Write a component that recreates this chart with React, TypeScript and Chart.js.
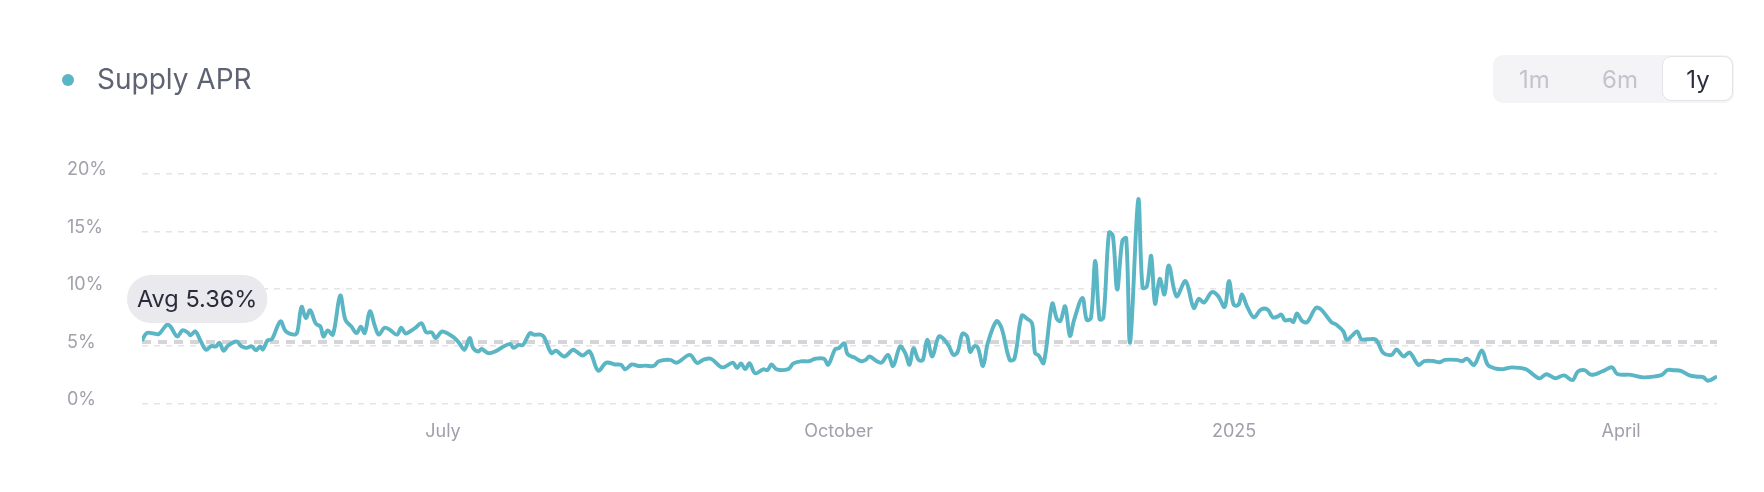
import React, { useEffect, useRef } from "react";
import { Chart, registerables } from "chart.js";

Chart.register(...registerables);

// ---- data (day 0 = 22 Apr 2024) ----
const days = [
  0, 1.1, 2.7, 3.9, 5.8, 6.6, 8.2, 9.4, 10.6, 11.3, 12.4, 13.7, 14.9, 16.1, 17.2, 18.0, 19.0, 20.0,
  22.0, 23.1, 24.3, 25.5, 26.5, 27.5, 28.1, 29.2, 30.2, 32.2, 33.4, 35.3, 36.1, 37.1, 38.1, 39.1,
  40.4, 41.5, 42.2, 43.2, 44.4, 46.1, 47.3, 48.7, 49.9, 50.9, 51.8, 53.0, 54.2, 55.1, 56.4, 57.7,
  59.3, 60.3, 61.3, 62.4, 63.6, 65.0, 66.1, 67.4, 68.3, 69.7, 71.1, 72.7, 73.8, 75.0, 76.2, 77.0,
  78.2, 79.0, 80.5, 82.1, 83.7, 85.6, 86.4, 87.6, 88.6, 90.2, 91.1, 92.7, 93.5, 95.2, 96.3, 98.2,
  100.2, 101.0, 102.5, 104.1, 106.1, 108.0, 110.0, 111.4, 112.4, 113.9, 115.5, 117.1, 119.0, 120.2,
  122.8, 124.4, 127.4, 129.1, 130.5, 132.3, 135.0, 137.4, 138.4, 139.3, 140.3, 141.3, 142.6, 144.5,
  145.5, 146.4, 147.6, 150.3, 151.5, 153.5, 155.1, 156.6, 158.6, 159.6, 161.2, 162.1, 163.3, 164.1,
  165.7, 167.3, 168.3, 169.2, 170.8, 172.0, 173.5, 174.7, 176.3, 177.5, 178.5, 179.4, 180.6, 181.6,
  182.6, 183.8, 185.3, 186.5, 187.7, 188.7, 189.7, 190.8, 191.9, 192.6, 193.6, 194.4, 195.6, 196.7,
  198.7, 199.9, 201.8, 202.9, 204.6, 205.8, 207.0, 207.7, 208.5, 209.7, 211.7, 212.8, 213.6, 214.7,
  215.8, 216.8, 218.7, 219.7, 220.7, 221.7, 222.7, 223.6, 224.9, 225.8, 226.8, 228.0, 228.9, 229.8,
  231.7, 232.7, 233.7, 234.7, 235.6, 236.7, 237.8, 238.8, 240.6, 242.7, 244.6, 245.8, 247.0, 248.8,
  250.2, 251.8, 252.8, 253.9, 255.0, 255.8, 257.0, 258.6, 260.2, 261.8, 263.0, 264.2, 265.0, 265.8,
  267.0, 267.8, 268.6, 269.8, 271.0, 273.0, 274.2, 276.6, 277.8, 279.4, 280.2, 281.4, 282.6, 283.6,
  285.0, 287.0, 288.6, 290.6, 291.8, 293.4, 294.8, 296.9, 298.2, 300.2, 301.8, 303.0, 305.8, 307.0,
  308.2, 309.8, 311.6, 313.0, 314.6, 316.6, 318.6, 321.8, 323.4, 325.0, 326.6, 328.7, 330.7, 332.7,
  333.9, 335.5, 337.1, 339.9, 341.9, 343.1, 346.3, 349.1, 351.9, 353.5, 354.8, 356.3, 357.9, 359.9,
  361.9, 363.1, 364.2, 366.3,
];

const supplyApr = [
  5.47, 6.14, 6.1, 6.05, 6.87, 6.72, 5.84, 6.37, 6.2, 5.95, 6.29, 5.4, 4.68, 5.0, 4.98, 5.3, 4.6, 5.05,
  5.4, 5.0, 4.85, 4.98, 4.65, 4.98, 4.7, 5.5, 5.6, 7.16, 6.3, 6.0, 6.2, 8.42, 7.45, 8.12,
  6.97, 6.7, 5.84, 6.37, 6.0, 9.41, 7.3, 6.7, 6.14, 6.7, 6.14, 8.04, 6.7, 6.0, 6.6, 6.4,
  6.0, 6.6, 6.1, 6.3, 6.6, 7.0, 6.2, 6.2, 5.7, 6.26, 6.1, 5.7, 5.26, 4.68, 5.7, 4.85,
  4.53, 4.75, 4.39, 4.53, 4.88, 5.2, 4.85, 5.1, 5.1, 6.14, 6.0, 6.0, 5.8, 4.4, 4.6, 4.09,
  4.68, 4.53, 4.18, 4.53, 2.86, 3.56, 3.4, 3.37, 2.98, 3.4, 3.27, 3.3, 3.27, 3.68,
  3.8, 3.56, 4.24, 3.53, 3.8, 3.9, 3.15, 3.56, 3.1, 3.5, 3.0, 3.5, 2.63, 2.98,
  2.92, 3.4, 2.98, 3.0, 3.5, 3.68, 3.68, 3.9, 3.9, 3.38, 4.73, 4.82, 5.26, 4.3,
  4.0, 3.68, 3.8, 4.1, 3.7, 3.56, 4.24, 3.27, 4.97, 4.4, 3.38, 4.82, 3.8, 3.8,
  5.55, 4.1, 5.84, 5.6, 4.97, 4.24, 4.5, 6.08, 5.84, 4.5, 5.0, 4.85, 3.27, 5.26,
  7.16, 6.6, 3.8, 3.9, 7.66, 7.4, 7.0, 4.4, 4.2, 3.53, 8.7, 7.34, 7.2, 8.47,
  5.9, 7.3, 9.2, 7.3, 7.45, 12.42, 7.34, 7.5, 14.9, 14.6, 9.94, 14.2, 14.4, 5.32,
  17.77, 10.1, 10.2, 12.86, 8.7, 10.87, 9.5, 12.04, 9.35, 10.67, 8.33, 9.12, 8.8, 9.7,
  9.4, 8.42, 10.67, 8.6, 8.6, 9.5, 8.47, 7.5, 8.18, 8.18, 7.5, 7.6, 7.75, 7.25,
  7.3, 7.1, 7.85, 7.2, 7.1, 8.33, 8.2, 7.1, 6.87, 6.28, 5.55, 5.9, 6.28, 5.6,
  5.6, 5.55, 4.44, 4.24, 4.7, 4.1, 4.44, 3.36, 3.7, 3.7, 3.6, 3.8, 3.8, 3.7,
  3.9, 3.36, 4.62, 3.36, 3.07, 3.0, 3.15, 3.0, 2.57, 2.19, 2.55, 2.2, 2.45, 2.04,
  2.77, 2.9, 2.5, 2.85, 3.15, 2.57, 2.5, 2.28, 2.36, 2.5, 2.92, 2.9, 2.85, 2.45,
  2.33, 2.3, 1.98, 2.36,
];

const avgValue = 5.36;
const avgLabel = "Avg 5.36%";
const seriesName = "Supply APR";
const xTickDays = [70, 162, 254, 344];
const xTickLabels = ["July", "October", "2025", "April"];
const yTickValues = [0, 5, 10, 15, 20];
const rangeLabels = ["1m", "6m", "1y"];
const activeRange = "1y";

const TEAL = "#5ab5c4";
const FONT = "Inter, 'Noto Sans', sans-serif";

export default function App() {
  const ref = useRef<HTMLCanvasElement | null>(null);

  useEffect(() => {
    const canvas = ref.current;
    if (!canvas) return;
    const lastDay = days[days.length - 1];

    const avgPill = {
      id: "avgPill",
      afterDatasetsDraw(chart: any) {
        const { ctx, chartArea, scales } = chart;
        const cy = scales.y.getPixelForValue(avgValue) - 43;
        ctx.save();
        ctx.font = `400 23.5px ${FONT}`;
        const tw = ctx.measureText(avgLabel).width;
        const h = 48;
        const w = tw + 20;
        const x = chartArea.left - 15;
        ctx.fillStyle = "#e9e9ee";
        ctx.beginPath();
        ctx.roundRect(x, cy - h / 2, w, h, h / 2);
        ctx.fill();
        ctx.fillStyle = "#2a2c3b";
        ctx.textBaseline = "middle";
        ctx.textAlign = "left";
        ctx.fillText(avgLabel, x + 10, cy + 1);
        ctx.restore();
      },
    };

    const chart = new Chart(canvas, {
      type: "line",
      data: {
        datasets: [
          {
            label: seriesName,
            data: days.map((d, i) => ({ x: d, y: supplyApr[i] })),
            borderColor: TEAL,
            borderWidth: 3.9,
            pointRadius: 0,
            tension: 0.35,
            fill: false,
            order: 1,
            borderJoinStyle: "round",
          },
          {
            label: "avg",
            data: [
              { x: 0, y: avgValue },
              { x: lastDay, y: avgValue },
            ],
            borderColor: "#d4d4d9",
            borderWidth: 4,
            borderDash: [9, 7],
            pointRadius: 0,
            fill: false,
            order: 2,
          },
        ],
      },
      options: {
        responsive: false,
        animation: false,
        layout: { padding: { left: 67, top: 174, right: 47, bottom: 48.5 } },
        plugins: { legend: { display: false }, tooltip: { enabled: false } },
        scales: {
          x: {
            type: "linear",
            min: 0,
            max: lastDay,
            bounds: "data",
            grid: { display: false, drawTicks: false },
            border: { display: false },
            afterBuildTicks: (s: any) => {
              s.ticks = xTickDays.map((v) => ({ value: v }));
            },
            afterFit: (s: any) => {
              s.height = 40;
            },
            ticks: {
              autoSkip: false,
              maxRotation: 0,
              padding: 17,
              color: "#a0a0ab",
              font: { family: FONT, size: 18 },
              callback: (_v: any, i: number) => xTickLabels[i],
            },
          },
          y: {
            type: "linear",
            min: 0,
            max: 20,
            afterBuildTicks: (s: any) => {
              s.ticks = yTickValues.map((v) => ({ value: v }));
            },
            afterFit: (s: any) => {
              s.width = 75;
            },
            grid: { color: "#e4e4e8", lineWidth: 1.5, drawTicks: false },
            border: { display: false, dash: [6, 6] },
            ticks: {
              crossAlign: "far",
              labelOffset: -4,
              color: "#a1a1ab",
              font: { family: FONT, size: 18 },
              callback: (v: any) => `${v}%`,
            },
          },
        },
      } as any,
      plugins: [avgPill],
    });
    return () => chart.destroy();
  }, []);

  const btnCenters = [1534.5, 1620, 1698];

  return (
    <div
      style={{
        position: "fixed",
        left: 0,
        top: 0,
        width: 1764,
        height: 492,
        background: "#ffffff",
        overflow: "hidden",
        fontFamily: FONT,
      }}
    >
      <canvas
        ref={ref}
        width={1764}
        height={492}
        style={{ position: "absolute", left: 0, top: 0, width: 1764, height: 492 }}
      />
      {/* legend */}
      <div
        style={{
          position: "absolute",
          left: 62,
          top: 74,
          width: 12,
          height: 12,
          borderRadius: 6,
          background: TEAL,
        }}
      />
      <div
        style={{
          position: "absolute",
          left: 97,
          top: 65,
          fontSize: 28,
          lineHeight: "28px",
          color: "#5f6272",
          whiteSpace: "nowrap",
        }}
      >
        {seriesName}
      </div>
      {/* range switch */}
      <div
        style={{
          position: "absolute",
          left: 1493,
          top: 55,
          width: 241,
          height: 48,
          borderRadius: 10,
          background: "#f4f4f6",
        }}
      />
      <div
        style={{
          position: "absolute",
          left: 1662,
          top: 56,
          width: 71,
          height: 45,
          borderRadius: 9,
          background: "#ffffff",
          border: "1.5px solid #e3e3e8",
          boxSizing: "border-box",
        }}
      />
      {rangeLabels.map((r, i) => (
        <div
          key={r}
          style={{
            position: "absolute",
            left: btnCenters[i] - 40,
            top: 55,
            width: 80,
            height: 48,
            display: "flex",
            alignItems: "center",
            justifyContent: "center",
            fontSize: 24,
            color: r === activeRange ? "#2b2d3c" : "#c3c3cb",
          }}
        >
          {r}
        </div>
      ))}
    </div>
  );
}
